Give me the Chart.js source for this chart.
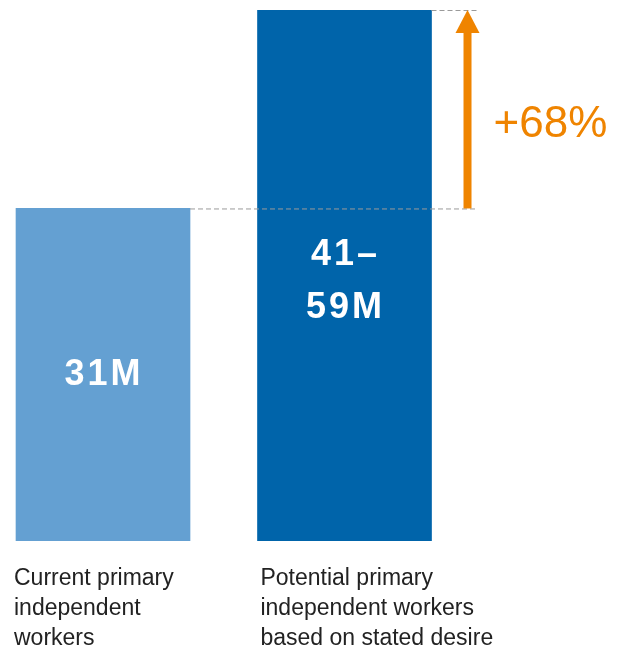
<!DOCTYPE html>
<html>
<head>
<meta charset="utf-8">
<script src="https://cdn.jsdelivr.net/npm/chart.js@4.4.1/dist/chart.umd.min.js"></script>
<style>
  html, body { margin: 0; padding: 0; background: #fff; }
  #wrap { position: relative; width: 622px; height: 653px; }
</style>
</head>
<body>
<div id="wrap"><canvas id="chart"></canvas></div>
<script>
// data
const categories = [
  ['Current primary', 'independent', 'workers'],
  ['Potential primary', 'independent workers', 'based on stated desire']
];
const workers = [31, 49.5];            // millions (second bar = midpoint of range as drawn)
const valueLabels = [['31M'], ['41–', '59M']];
const growthLabel = '+68%';
const barColors = ['#64a0d2', '#0064aa'];

const FONT = '"Liberation Sans", Arial, sans-serif';
const orange = '#ef8400';

// bar labels, dashed guides and growth arrow
const overlay = {
  id: 'overlay',
  afterDatasetsDraw(chart) {
    const ctx = chart.ctx;
    const bars = chart.getDatasetMeta(0).data;

    ctx.save();
    ctx.fillStyle = '#fff';
    ctx.font = 'bold 36px ' + FONT;
    ctx.letterSpacing = '3px';
    ctx.textAlign = 'center';
    ctx.textBaseline = 'middle';
    bars.forEach((b, i) => {
      const lines = valueLabels[i];
      const mid = (b.y + b.base) / 2 + (lines.length > 1 ? 6 : 0);
      const lh = 53;
      lines.forEach((t, j) => {
        ctx.fillText(t, b.x + 1, mid + (j - (lines.length - 1) / 2) * lh);
      });
    });
    ctx.restore();

    const b1 = bars[0], b2 = bars[1];
    const right2 = b2.x + b2.width / 2;
    const ax = right2 + 36;

    // dashed guides
    ctx.save();
    ctx.strokeStyle = '#9a9a9a';
    ctx.lineWidth = 1;
    ctx.setLineDash([5, 3]);
    ctx.beginPath();
    ctx.moveTo(b1.x + b1.width / 2, b1.y + 0.5);
    ctx.lineTo(ax + 10, b1.y + 0.5);
    ctx.moveTo(right2, b2.y + 0.5);
    ctx.lineTo(ax + 12, b2.y + 0.5);
    ctx.stroke();
    ctx.restore();

    // arrow
    ctx.save();
    ctx.fillStyle = orange;
    ctx.fillRect(ax - 4, b2.y + 22, 8, b1.y - b2.y - 22);
    ctx.beginPath();
    ctx.moveTo(ax, b2.y);
    ctx.lineTo(ax + 12, b2.y + 23);
    ctx.lineTo(ax - 12, b2.y + 23);
    ctx.closePath();
    ctx.fill();

    ctx.font = '44px ' + FONT;
    ctx.textAlign = 'left';
    ctx.textBaseline = 'middle';
    ctx.fillText(growthLabel, ax + 26, (b1.y + b2.y) / 2 + 16);
    ctx.restore();
  }
};

new Chart(document.getElementById('chart'), {
  type: 'bar',
  data: {
    datasets: [{
      data: workers.map((v, i) => ({ x: i, y: v })),
      backgroundColor: barColors,
      barThickness: 174,
      borderWidth: 0
    }]
  },
  options: {
    responsive: true,
    maintainAspectRatio: false,
    animation: false,
    layout: { padding: { top: 10, left: 0, right: 0, bottom: 0 } },
    plugins: { legend: { display: false }, tooltip: { enabled: false } },
    scales: {
      x: {
        type: 'linear',
        bounds: 'data',
        offset: false,
        min: -0.4265,
        max: 2.149,
        grid: {
          display: true,
          offset: false,
          drawOnChartArea: false,
          drawTicks: true,
          tickLength: 23,
          color: 'rgba(0,0,0,0)'
        },
        border: { display: false },
        afterBuildTicks: s => { s.ticks = [{ value: -0.3685 }, { value: 0.652 }]; },
        afterFit: s => { s.height = 112; },
        ticks: {
          align: 'start',
          padding: 0,
          color: '#222',
          font: { family: FONT, size: 23, lineHeight: 1.3 },
          callback: (v, i) => categories[i]
        }
      },
      y: {
        display: false,
        min: 0,
        max: 49.5
      }
    }
  },
  plugins: [overlay]
});
</script>
</body>
</html>
